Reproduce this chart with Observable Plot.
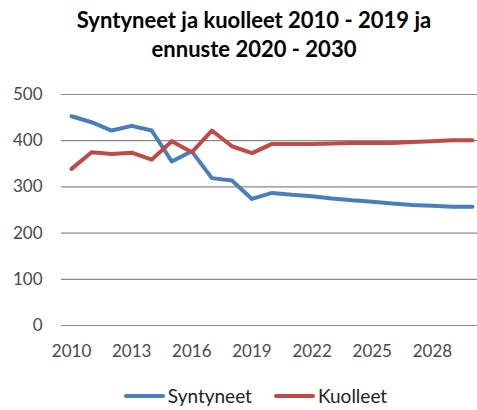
<!DOCTYPE html>
<html>
<head>
<meta charset="utf-8">
<script src="https://cdn.jsdelivr.net/npm/d3@7"></script>
<script src="https://cdn.jsdelivr.net/npm/@observablehq/plot@0.6"></script>
<style>
  html, body { margin: 0; padding: 0; background: #fff; }
  #wrap { width: 477px; height: 410px; position: relative; overflow: hidden; font-family: Lato, "Open Sans", sans-serif; }
  #title { position: absolute; left: 31px; top: 5px; width: 446px; text-align: center; font-weight: bold; font-size: 22px; line-height: 29px; color: #000; }
  #chart { position: absolute; left: 0; top: 80px; }
  #legend { position: absolute; top: 384px; left: 34px; width: 443px; display: flex; justify-content: center; align-items: center; font-size: 19px; color: #222; }
  .item { display: flex; align-items: center; margin: 0 11px; }
  .sw { width: 41px; height: 4px; border-radius: 2px; margin-right: 3px; }
</style>
</head>
<body>
<div id="wrap">
  <div id="title">Syntyneet ja kuolleet 2010 - 2019 ja<br>ennuste 2020 - 2030</div>
  <div id="chart"></div>
  <div id="legend"></div>
</div>
<script>
const years = [2010,2011,2012,2013,2014,2015,2016,2017,2018,2019,2020,2021,2022,2023,2024,2025,2026,2027,2028,2029,2030];
const syntyneet = [453,440,422,432,422,355,377,319,314,274,287,283,280,275,271,268,264,261,259,257,257];
const kuolleet = [339,375,371,374,359,399,375,422,388,373,393,393,393,394,395,395,395,397,399,401,401];
const seriesNames = ["Syntyneet", "Kuolleet"];
const seriesColors = ["#4a7ebb", "#be4b48"];
const xTicks = [2010,2013,2016,2019,2022,2025,2028];
const yTicks = [0,100,200,300,400,500];

const data = [];
years.forEach((y, i) => {
  data.push({year: y, value: syntyneet[i], series: seriesNames[0]});
  data.push({year: y, value: kuolleet[i], series: seriesNames[1]});
});

const plot = Plot.plot({
  width: 477,
  height: 295,
  marginTop: 14,
  marginBottom: 50,
  marginLeft: 61,
  marginRight: 0,
  style: {fontFamily: "Lato, 'Open Sans', sans-serif", fontSize: "17px", color: "#4a4a4a", background: "#fff", overflow: "visible"},
  x: {domain: [2009.5, 2030.25], ticks: xTicks, tickFormat: d => String(d), tickSize: 0, tickPadding: 19, label: null},
  y: {domain: [0, 500], ticks: yTicks, tickSize: 0, tickPadding: 19, label: null},
  color: {domain: seriesNames, range: seriesColors},
  marks: [
    Plot.ruleY(yTicks, {stroke: "#8a8a8a", strokeWidth: 1.2, strokeOpacity: 1}),
    Plot.line(data, {x: "year", y: "value", z: "series", stroke: "series", strokeWidth: 4, strokeLinejoin: "round", strokeLinecap: "round"})
  ]
});
document.getElementById("chart").appendChild(plot);

const leg = document.getElementById("legend");
seriesNames.forEach((n, i) => {
  const it = document.createElement("div");
  it.className = "item";
  const sw = document.createElement("div");
  sw.className = "sw";
  sw.style.background = seriesColors[i];
  const t = document.createElement("span");
  t.textContent = n;
  it.appendChild(sw); it.appendChild(t);
  leg.appendChild(it);
});
</script>
</body>
</html>
